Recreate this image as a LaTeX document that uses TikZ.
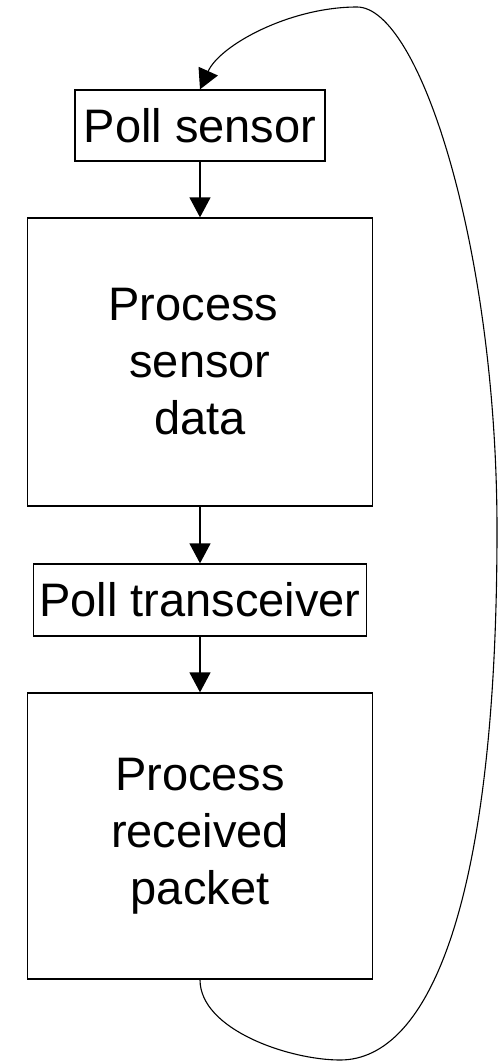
\documentclass[tikz,border=0pt]{standalone}
\usepackage{fontspec}
\setmainfont{Liberation Sans}
\usetikzlibrary{arrows.meta}
\begin{document}
\begin{tikzpicture}[x=1pt,y=-1pt,
  box/.style={draw, line width=1.3pt, inner sep=0pt, align=center,
    font=\fontsize{47}{57}\selectfont},
  flow/.style={line width=1.3pt, -{Triangle[length=20pt,width=21pt]}},
  back/.style={line width=1.1pt, -{Triangle[length=20pt,width=21pt]}}]
\useasboundingbox (0,0) rectangle (498,1061);

% process steps
\node[box, minimum width=250pt, minimum height=71pt] (ps) at (200,125.5) {Poll sensor};
\node[box, minimum width=345pt, minimum height=288pt] (psd) at (200,362)
  {Process\hspace*{13pt}\\sensor\hspace*{13pt}\\data};
\node[box, minimum width=333pt, minimum height=72pt] (pt) at (200,600) {Poll transceiver};
\node[box, minimum width=345pt, minimum height=286pt] (prp) at (200,836)
  {Process\\received\\packet};

% forward flow
\draw[flow] (ps.south) -- (psd.north);
\draw[flow] (psd.south) -- (pt.north);
\draw[flow] (pt.south) -- (prp.north);

% loop back to the start
\draw[back] (prp.south) .. controls (200,1030) and (290,1060) .. (340,1060)
  .. controls (430,1060) and (497,900) .. (497,530)
  .. controls (497,250) and (420,7) .. (357,7)
  .. controls (290,7) and (220,45) .. (ps.north);
\end{tikzpicture}
\end{document}
